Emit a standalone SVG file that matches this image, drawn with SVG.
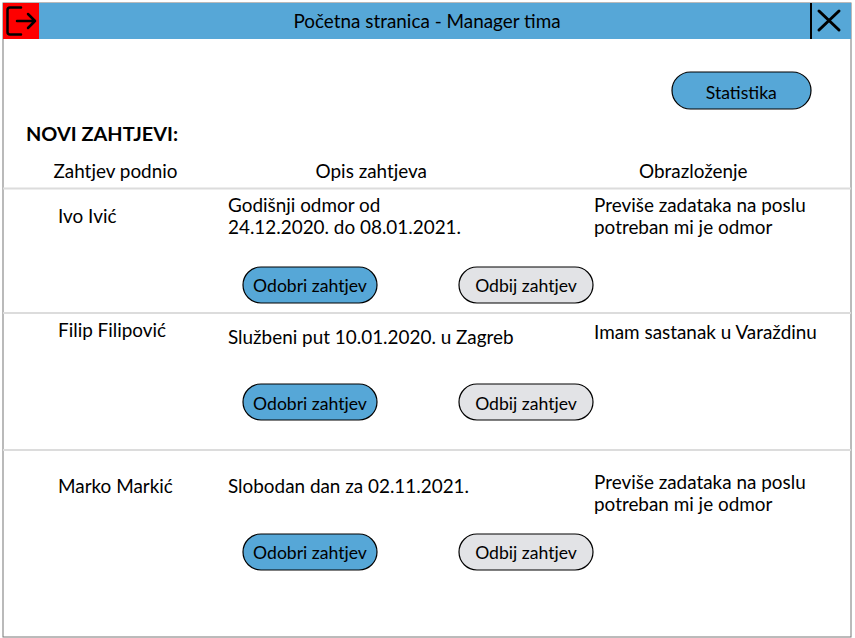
<svg xmlns="http://www.w3.org/2000/svg" width="855" height="638" viewBox="0 0 855 638">
<style>
text{font-family:Lato,"Liberation Sans",sans-serif;font-size:18.9px;fill:#000}
.c{text-anchor:middle}
.btn{font-size:17.6px}
.h{font-size:19.9px;font-weight:700}
.b{stroke:#000;stroke-width:1.2}
.blue{fill:#56a7d7}
.gray{fill:#e2e3e6}
.sep{stroke:#dcdcdc;stroke-width:2;fill:none}
</style>
<rect width="855" height="638" fill="#fff"/>
<rect x="3" y="3" width="848" height="634" fill="#fff" stroke="#777" stroke-width="1"/>
<g id="header">
<rect x="3" y="3" width="848" height="36" class="blue"/>
<text x="427" y="28.300" class="c">Početna stranica - Manager tima</text>
</g>
<g id="logout">
<rect x="3" y="3" width="36" height="36" fill="#fe0000"/>
<path d="M21 7.500H10Q7.500 7.500 7.500 10V32Q7.500 34.500 10 34.500H21M17 21H35M28 14L35 21L28 28" fill="none" stroke="#000" stroke-width="2.500" stroke-linecap="round" stroke-linejoin="round"/>
</g>
<g id="close">
<path d="M811 3V39" stroke="#000" stroke-width="2"/>
<path d="M819 11L839 30M839 11L819 30" stroke="#000" stroke-width="3" stroke-linecap="round" fill="none"/>
</g>
<g id="statistika"><rect x="672" y="72" width="139" height="37" rx="18.5" class="b blue"/><text x="741.300" y="98.700" class="c btn">Statistika</text></g>
<text x="26" y="140.700" class="h">NOVI ZAHTJEVI:</text>
<text x="115.500" y="177.700" class="c">Zahtjev podnio</text>
<text x="371.300" y="177.700" class="c">Opis zahtjeva</text>
<text x="693.300" y="177.700" class="c">Obrazloženje</text>
<g id="separators">
<path class="sep" d="M3 188.500H851M3 313H851M3 450H851"/>
</g>
<g id="row1">
<text x="58" y="222.700">Ivo Ivić</text>
<text x="228" y="211.700">Godišnji odmor od</text>
<text x="228" y="233.700">24.12.2020. do 08.01.2021.</text>
<text x="594" y="211.700">Previše zadataka na poslu</text>
<text x="594" y="233.700">potreban mi je odmor</text>
</g>
<g id="odobri1"><rect x="243" y="267" width="134" height="36" rx="18" class="b blue"/><text x="310" y="291.500" class="c btn">Odobri zahtjev</text></g>
<g id="odbij1"><rect x="459" y="267" width="134" height="36" rx="18" class="b gray"/><text x="526" y="291.500" class="c btn">Odbij zahtjev</text></g>
<g id="row2">
<text x="58" y="336.700">Filip Filipović</text>
<text x="228" y="343.700">Službeni put 10.01.2020. u Zagreb</text>
<text x="594" y="338.700">Imam sastanak u Varaždinu</text>
</g>
<g id="odobri2"><rect x="243" y="384" width="134" height="36" rx="18" class="b blue"/><text x="310" y="409.500" class="c btn">Odobri zahtjev</text></g>
<g id="odbij2"><rect x="459" y="384" width="134" height="36" rx="18" class="b gray"/><text x="526" y="409.500" class="c btn">Odbij zahtjev</text></g>
<g id="row3">
<text x="58" y="492.700">Marko Markić</text>
<text x="228" y="492.700">Slobodan dan za 02.11.2021.</text>
<text x="594" y="488.700">Previše zadataka na poslu</text>
<text x="594" y="510.700">potreban mi je odmor</text>
</g>
<g id="odobri3"><rect x="243" y="534" width="134" height="36" rx="18" class="b blue"/><text x="310" y="558.500" class="c btn">Odobri zahtjev</text></g>
<g id="odbij3"><rect x="459" y="534" width="134" height="36" rx="18" class="b gray"/><text x="526" y="558.500" class="c btn">Odbij zahtjev</text></g>
</svg>
